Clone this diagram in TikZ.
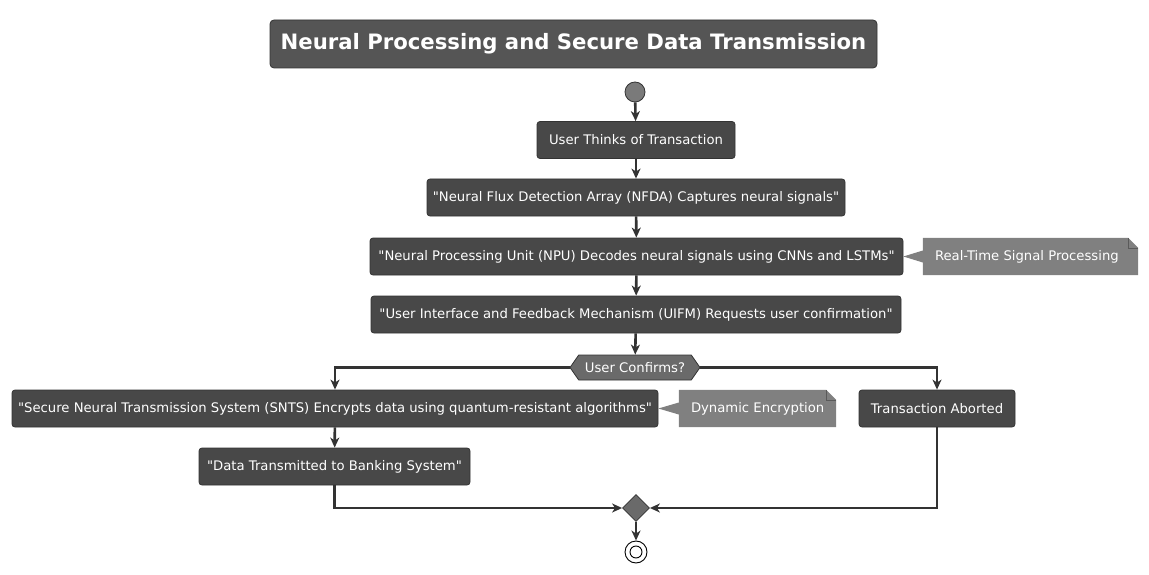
\documentclass[tikz,border=0pt]{standalone}
\usepackage{fontspec}
\setmainfont{DejaVu Sans}
\usetikzlibrary{arrows.meta,shapes.geometric,shapes.symbols,calc}
\definecolor{actfill}{HTML}{484848}
\definecolor{actborder}{HTML}{333333}
\definecolor{titlefill}{HTML}{555555}
\definecolor{notefill}{HTML}{808080}
\definecolor{decfill}{HTML}{6A6A6A}
\definecolor{startfill}{HTML}{7A7A7A}
\definecolor{linecol}{HTML}{333333}
\newcommand\qq{\textquotedbl}
\begin{document}
\begin{tikzpicture}[x=1pt,y=-1pt,
  act/.style={draw=actborder, line width=0.8pt, fill=actfill, rounded corners=3pt, text=white,
    font=\fontsize{13.2}{16}\selectfont, minimum height=37pt, inner sep=0pt},
  notebox/.style={text=white, font=\fontsize{13.2}{16}\selectfont, minimum height=37pt, inner sep=0pt},
  flow/.style={draw=linecol, line width=2.6pt, -{Stealth[length=10pt,width=9pt,inset=3pt]}},
]
\useasboundingbox (0,0) rectangle (1149,575);

% title
\node[draw=actborder, fill=titlefill, rounded corners=4pt, text=white, line width=0.8pt,
  font=\fontsize{21.2}{25}\selectfont\bfseries, minimum width=607pt, minimum height=48pt, inner sep=0pt]
  (title) at (573.5,44) {Neural Processing and Secure Data Transmission};

% start
\node[circle, fill=startfill, draw=actborder, line width=0.8pt, minimum size=20pt, inner sep=0pt] (start) at (635,92) {};

\node[act, minimum width=198pt] (b1) at (636,140) {User Thinks of Transaction};
\node[act, minimum width=418pt] (b2) at (636,197.5) {\qq Neural Flux Detection Array (NFDA) Captures neural signals\qq};
\node[act, minimum width=533pt] (b3) at (636.5,256.5) {\qq Neural Processing Unit (NPU) Decodes neural signals using CNNs and LSTMs\qq};
\node[act, minimum width=530pt] (b4) at (636,314.5) {\qq User Interface and Feedback Mechanism (UIFM) Requests user confirmation\qq};

% decision
\node[signal, signal to=west and east, signal pointer angle=110, fill=decfill, draw=actborder, line width=0.8pt,
  text=white, font=\fontsize{13.2}{16}\selectfont, minimum width=130pt, minimum height=25pt, inner sep=0pt]
  (dec) at (635,367.5) {User Confirms?};

\node[act, minimum width=646pt] (b5) at (335,408.5) {\qq Secure Neural Transmission System (SNTS) Encrypts data using quantum-resistant algorithms\qq};
\node[act, minimum width=156pt] (b6) at (937,408.5) {Transaction Aborted};
\node[act, minimum width=271pt] (b7) at (334.5,466.5) {\qq Data Transmitted to Banking System\qq};

% notes
\node[notebox, minimum width=215pt] (n1) at (1030.5,256.5) {};
\node[notebox, minimum width=157pt] (n2) at (757.5,408.5) {};
\foreach \n/\b in {n1/b3,n2/b5}{
  \fill[notefill] ($(\n.west)+(0,-6)$) -- (\b.east) -- ($(\n.west)+(0,6)$) -- cycle;
  \fill[notefill] (\n.north west) -- ($(\n.north east)+(-10,0)$) -- ($(\n.north east)+(0,10)$) -- (\n.south east) -- (\n.south west) -- cycle;
  \draw[color=notefill!70!black, line width=0.6pt] ($(\n.north east)+(-10,0)$) -- ($(\n.north east)+(-10,10)$) -- ($(\n.north east)+(0,10)$);
}
\node[notebox, anchor=west] (n1t) at ($(n1.west)+(12,0)$) {Real-Time Signal Processing};
\node[notebox, anchor=west] (n2t) at ($(n2.west)+(12,0)$) {Dynamic Encryption};

% merge and end
\node[diamond, fill=decfill, draw=actborder, line width=0.8pt, minimum width=27pt, minimum height=27pt, inner sep=0pt] (merge) at (636,508) {};
\node[circle, fill=white, draw=black, line width=0.9pt, minimum size=22pt, inner sep=0pt] (end) at (636,552) {};
\node[circle, draw=black, line width=0.9pt, minimum size=12pt, inner sep=0pt] (endin) at (end) {};

% connectors
\draw[flow] (start) -- (b1);
\draw[flow] (b1) -- (b2);
\draw[flow] (b2) -- (b3);
\draw[flow] (b3) -- (b4);
\draw[flow] (b4) -- (dec);
\draw[flow] (dec.west) -| (b5.north);
\draw[flow] (dec.east) -| (b6.north);
\draw[flow] (b5) -- (b7);
\draw[flow] (b7.south) |- (merge.west);
\draw[flow] (b6.south) |- (merge.east);
\draw[flow] (merge.south) -- (end);
\end{tikzpicture}
\end{document}
